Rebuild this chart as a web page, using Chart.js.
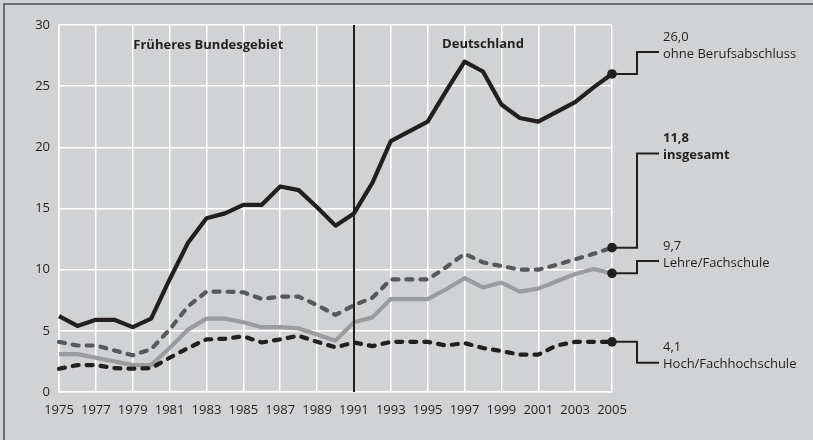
<!DOCTYPE html>
<html>
<head>
<meta charset="utf-8">
<script src="https://cdn.jsdelivr.net/npm/chart.js@4"></script>
<style>
  html, body { margin: 0; padding: 0; background: #d1d2d4; }
  #wrap { position: relative; width: 813px; height: 440px; background: #d1d2d4; }
  #wrap::before { content: ""; position: absolute; left: 3px; top: 3px; right: 0; height: 2px; background: #6d6e70; }
  #wrap::after { content: ""; position: absolute; left: 3px; top: 3px; bottom: 0; width: 2px; background: #6d6e70; }
  canvas { position: absolute; left: 0; top: 0; }
</style>
</head>
<body>
<div id="wrap"><canvas id="c" width="813" height="440"></canvas></div>
<script>
const years = [1975,1976,1977,1978,1979,1980,1981,1982,1983,1984,1985,1986,1987,1988,1989,1990,1991,1992,1993,1994,1995,1996,1997,1998,1999,2000,2001,2002,2003,2004,2005];
const ohneBerufsabschluss = [6.2,5.4,5.9,5.9,5.3,6.0,9.2,12.2,14.2,14.6,15.3,15.3,16.8,16.5,15.1,13.6,14.6,17.1,20.5,21.3,22.1,24.6,27.0,26.2,23.5,22.4,22.1,22.9,23.7,24.9,26.0];
const insgesamt = [4.1,3.8,3.8,3.4,3.0,3.5,5.1,7.0,8.2,8.2,8.15,7.6,7.8,7.8,7.1,6.3,7.1,7.7,9.2,9.2,9.2,10.2,11.3,10.6,10.3,10.0,10.0,10.4,10.85,11.3,11.8];
const lehreFachschule = [3.1,3.1,2.8,2.5,2.2,2.2,3.6,5.1,6.0,6.0,5.7,5.3,5.3,5.2,4.7,4.2,5.7,6.1,7.6,7.6,7.6,8.4,9.3,8.55,8.95,8.2,8.45,9.05,9.65,10.05,9.7];
const hochFachhochschule = [1.9,2.2,2.2,1.95,1.9,1.95,2.8,3.6,4.3,4.35,4.55,4.05,4.3,4.6,4.1,3.65,4.05,3.75,4.1,4.1,4.1,3.8,4.0,3.6,3.35,3.05,3.05,3.8,4.1,4.1,4.1];
const yTicks = [0,5,10,15,20,25,30];
const xTickYears = [1975,1977,1979,1981,1983,1985,1987,1989,1991,1993,1995,1997,1999,2001,2003,2005];
const endValueLabels = ['26,0','11,8','9,7','4,1'];
const seriesNames = ['ohne Berufsabschluss','insgesamt','Lehre/Fachschule','Hoch/Fachhochschule'];
const labelLevels = [27.8, 19.5, 10.7, 2.4];   // data-space level of each label's connector
const boldLabel = [false, true, false, false];
const periodTitles = [{text:'Früheres Bundesgebiet', x:1983.1, y:28.3},{text:'Deutschland', x:1998.0, y:28.4}];
const divideYear = 1991;

const INK = '#231f20';
const FONT = "'Open Sans', 'Noto Sans', sans-serif";

function mk(vals, color, dash) {
  return {
    data: years.map((y, i) => ({x: y, y: vals[i]})),
    borderColor: color,
    borderWidth: 4.2,
    borderDash: dash,
    borderCapStyle: dash.length ? 'round' : 'butt',
    borderJoinStyle: 'round',
    tension: 0,
    fill: false,
    clip: false,
    pointRadius: ctx => ctx.dataIndex === years.length - 1 ? 4.8 : 0,
    pointBackgroundColor: INK,
    pointBorderWidth: 0,
    pointHoverRadius: 0
  };
}

const series = [ohneBerufsabschluss, insgesamt, lehreFachschule, hochFachhochschule];

const overlay = {
  id: 'overlay',
  beforeDatasetsDraw(chart) {
    const {ctx, chartArea, scales} = chart;
    const xs = scales.x, ys = scales.y;
    ctx.save();
    const lastX = xs.getPixelForValue(years[years.length-1]);
    const elbowX = chartArea.right + 25, endX = chartArea.right + 47;
    series.forEach((s, i) => {
      const py = ys.getPixelForValue(s[s.length-1]);
      const ly = ys.getPixelForValue(labelLevels[i]);
      ctx.strokeStyle = INK; ctx.lineWidth = 2; ctx.lineJoin = 'miter'; ctx.setLineDash([]);
      ctx.beginPath(); ctx.moveTo(lastX, py); ctx.lineTo(elbowX, py); ctx.lineTo(elbowX, ly); ctx.lineTo(endX, ly); ctx.stroke();
    });
    ctx.restore();
  },
  afterDatasetsDraw(chart) {
    const {ctx, chartArea, scales} = chart;
    const xs = scales.x, ys = scales.y;
    ctx.save();
    const dx = Math.round(xs.getPixelForValue(divideYear));
    ctx.strokeStyle = INK; ctx.lineWidth = 2;
    ctx.beginPath(); ctx.moveTo(dx, chartArea.top); ctx.lineTo(dx, chartArea.bottom); ctx.stroke();
    ctx.fillStyle = INK; ctx.font = 'bold 13px ' + FONT;
    ctx.textAlign = 'center'; ctx.textBaseline = 'middle';
    periodTitles.forEach(t => ctx.fillText(t.text, xs.getPixelForValue(t.x), ys.getPixelForValue(t.y)));
    const textX = chartArea.right + 51;
    series.forEach((s, i) => {
      const ly = ys.getPixelForValue(labelLevels[i]);
      ctx.textAlign = 'left'; ctx.textBaseline = 'middle';
      ctx.font = (boldLabel[i] ? 'bold ' : '') + '13px ' + FONT;
      ctx.fillText(endValueLabels[i], textX, ly - 15);
      ctx.fillText(seriesNames[i], textX, ly + 2);
    });
    ctx.restore();
  }
};

new Chart(document.getElementById('c'), {
  type: 'line',
  data: { datasets: [
    mk(hochFachhochschule, INK, [6, 8]),
    mk(lehreFachschule, '#9b9c9e', []),
    mk(insgesamt, '#58595b', [6, 8]),
    mk(ohneBerufsabschluss, INK, [])
  ]},
  options: {
    responsive: false,
    animation: false,
    events: [],
    layout: { padding: { left: 0, right: 201, top: 25, bottom: 0 } },
    plugins: { legend: { display: false }, tooltip: { enabled: false } },
    scales: {
      x: {
        type: 'linear', min: 1975, max: 2005,
        afterBuildTicks: s => { s.ticks = xTickYears.map(v => ({value: v})); },
        afterFit: s => { s.height = 48; },
        grid: { color: '#ffffff', lineWidth: 1.5, drawTicks: false },
        border: { display: true, color: '#ffffff', width: 1.5 },
        ticks: { color: INK, font: { family: FONT, size: 13 }, padding: 10, maxRotation: 0, autoSkip: false, callback: v => String(v) }
      },
      y: {
        min: 0, max: 30,
        afterBuildTicks: s => { s.ticks = yTicks.map(v => ({value: v})); },
        afterFit: s => { s.width = 59; },
        grid: { color: '#ffffff', lineWidth: 1.5, drawTicks: false },
        border: { display: true, color: '#ffffff', width: 1.5 },
        ticks: { color: INK, font: { family: FONT, size: 13 }, padding: 9, callback: v => String(v) }
      }
    }
  },
  plugins: [overlay]
});
</script>
</body>
</html>
